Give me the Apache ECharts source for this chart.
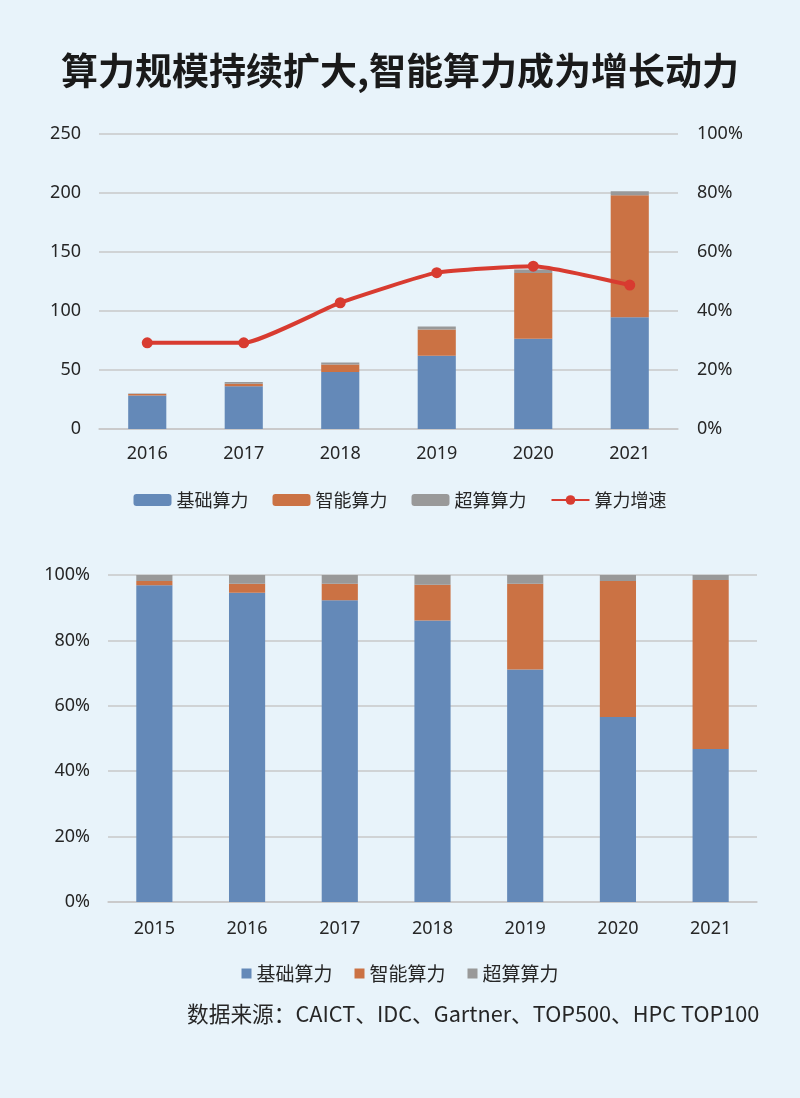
<!DOCTYPE html>
<html>
<head>
<meta charset="utf-8">
<script src="https://cdn.jsdelivr.net/npm/echarts@6/dist/echarts.min.js"></script>
<style>
html,body{margin:0;padding:0;background:#E8F3FA;}
#c{width:800px;height:1098px;}
</style>
</head>
<body>
<div id="c"></div>
<script>
// Top chart data
const topYears = ['2016','2017','2018','2019','2020','2021'];
const topBasic = [28.3, 36.3, 48.4, 62, 76.4, 94.7];
const topAI = [1.4, 2.0, 6.2, 22.3, 55.7, 103.3];
const topSuper = [0.4, 1.6, 1.7, 2.5, 3.1, 3.4];
const topGrowth = [29.2, 29.2, 42.8, 53.0, 55.2, 48.8];
const topLeftTicks = [0, 50, 100, 150, 200, 250];
const topRightTicks = ['0%','20%','40%','60%','80%','100%'];

// Bottom chart data (share %)
const botYears = ['2015','2016','2017','2018','2019','2020','2021'];
const botBasic = [96.9, 94.6, 92.3, 86.1, 71.1, 56.6, 46.8];
const botAI = [1.3, 2.7, 5.0, 10.9, 26.2, 41.6, 51.7];
const botSuper = [1.8, 2.7, 2.7, 3.0, 2.7, 1.8, 1.5];

const names = ['基础算力','智能算力','超算算力','算力增速'];
const colors = ['#6489B8','#CB7244','#999999','#D83B30'];
const txt = '#262626';
const font = '"Noto Sans", "Noto Sans CJK SC", sans-serif';
const gridColor = '#C8C8C8';

const chart = echarts.init(document.getElementById('c'), null, {renderer:'canvas'});
const axisLabelStyle = {color: txt, fontSize: 18, fontFamily: font};

chart.setOption({
  backgroundColor: '#E8F3FA',
  animation: false,
  textStyle: {fontFamily: font},
  title: {
    text: '算力规模持续扩大,智能算力成为增长动力',
    left: 'center', top: 47,
    textStyle: {fontSize: 37, fontWeight: 'bold', color: '#1a1a1a', fontFamily: '"Noto Sans CJK SC", sans-serif'}
  },
  legend: [
    {
      data: names,
      top: 486, left: 'center',
      itemWidth: 38, itemHeight: 12, itemGap: 24,
      textStyle: {color: txt, fontSize: 18, fontFamily: '"Noto Sans CJK SC", sans-serif'}
    },
    {
      data: names.slice(0,3).map(n => ({name: n, icon: 'rect'})),
      top: 959, left: 'center',
      itemWidth: 10, itemHeight: 10, itemGap: 22,
      textStyle: {color: txt, fontSize: 19, fontFamily: '"Noto Sans CJK SC", sans-serif'}
    }
  ],
  grid: [
    {left: 99, right: 122, top: 134, bottom: 669, containLabel: false},
    {left: 108, right: 43, top: 575, bottom: 196, containLabel: false}
  ],
  xAxis: [
    {type: 'category', gridIndex: 0, data: topYears,
     axisLine: {lineStyle: {color: gridColor, width: 1.5}}, axisTick: {show: false},
     axisLabel: Object.assign({margin: 16}, axisLabelStyle)},
    {type: 'category', gridIndex: 1, data: botYears,
     axisLine: {lineStyle: {color: gridColor, width: 1.5}}, axisTick: {show: false},
     axisLabel: Object.assign({margin: 18}, axisLabelStyle)}
  ],
  yAxis: [
    {type: 'value', gridIndex: 0, min: topLeftTicks[0], max: topLeftTicks[topLeftTicks.length-1], interval: 50,
     axisLine: {show: false}, axisTick: {show: false},
     splitLine: {lineStyle: {color: gridColor, width: 1.5}},
     axisLabel: Object.assign({margin: 18}, axisLabelStyle)},
    {type: 'value', gridIndex: 0, min: 0, max: 100, interval: 20, position: 'right',
     axisLine: {show: false}, axisTick: {show: false}, splitLine: {show: false},
     axisLabel: Object.assign({margin: 19, formatter: (v) => topRightTicks[Math.round(v/20)]}, axisLabelStyle)},
    {type: 'value', gridIndex: 1, min: 0, max: 100, interval: 20,
     axisLine: {show: false}, axisTick: {show: false},
     splitLine: {lineStyle: {color: gridColor, width: 1.5}},
     axisLabel: Object.assign({margin: 18, formatter: '{value}%'}, axisLabelStyle)}
  ],
  series: [
    {name: names[0], type: 'bar', stack: 't', xAxisIndex: 0, yAxisIndex: 0, data: topBasic, barWidth: '39.5%', itemStyle: {color: colors[0]}},
    {name: names[1], type: 'bar', stack: 't', xAxisIndex: 0, yAxisIndex: 0, data: topAI, barWidth: '39.5%', itemStyle: {color: colors[1]}},
    {name: names[2], type: 'bar', stack: 't', xAxisIndex: 0, yAxisIndex: 0, data: topSuper, barWidth: '39.5%', itemStyle: {color: colors[2]}},
    {name: names[3], type: 'line', xAxisIndex: 0, yAxisIndex: 1, data: topGrowth, smooth: 0.15,
     symbol: 'circle', symbolSize: 11, lineStyle: {color: colors[3], width: 4}, itemStyle: {color: colors[3]}, z: 5},
    {name: names[0], type: 'bar', stack: 'b', xAxisIndex: 1, yAxisIndex: 2, data: botBasic, barWidth: '39%', itemStyle: {color: colors[0]}},
    {name: names[1], type: 'bar', stack: 'b', xAxisIndex: 1, yAxisIndex: 2, data: botAI, barWidth: '39%', itemStyle: {color: colors[1]}},
    {name: names[2], type: 'bar', stack: 'b', xAxisIndex: 1, yAxisIndex: 2, data: botSuper, barWidth: '39%', itemStyle: {color: colors[2]}}
  ],
  graphic: [
    {type: 'text', left: 187, top: 1003,
     style: {text: '数据来源：CAICT、IDC、Gartner、TOP500、HPC TOP100', fill: txt, fontSize: 21.7, fontFamily: '"Noto Sans CJK SC", sans-serif'}}
  ]
});
</script>
</body>
</html>
